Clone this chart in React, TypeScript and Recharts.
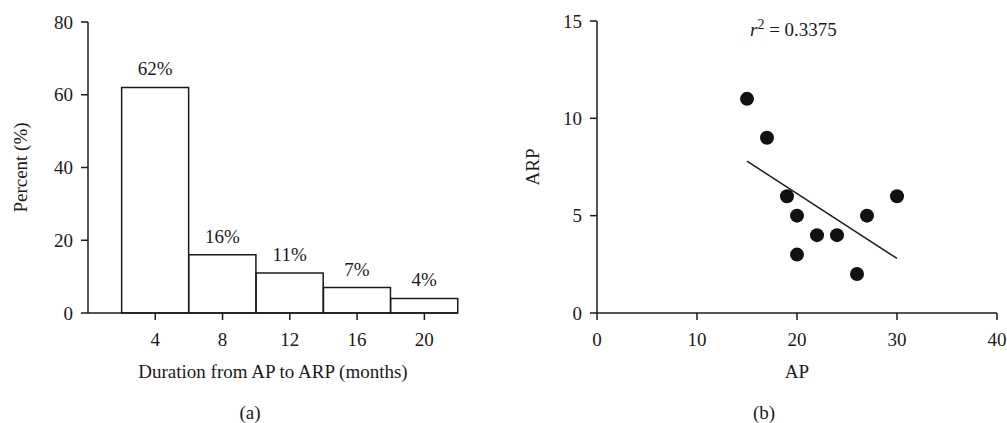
import React from 'react';
import {
  BarChart,
  Bar,
  XAxis,
  YAxis,
  LabelList,
  ScatterChart,
  Scatter,
} from 'recharts';

const durations = [4, 8, 12, 16, 20];
const percents = [62, 16, 11, 7, 4];
const percentTicks = [0, 20, 40, 60, 80];
const durationTicks = [4, 8, 12, 16, 20];

const apValues = [15, 17, 19, 20, 20, 22, 24, 26, 27, 30];
const arpValues = [11, 9, 6, 5, 3, 4, 4, 2, 5, 6];
const fitLine = [
  { x: 15, y: 7.8 },
  { x: 30, y: 2.8 },
];
const apTicks = [0, 10, 20, 30, 40];
const arpTicks = [0, 5, 10, 15];

const FONT = '"Liberation Serif", "DejaVu Serif", serif';
const INK = '#1a1a1a';
const tickStyle = { fontSize: 19, fill: INK, fontFamily: FONT };
const axisLine = { stroke: INK, strokeWidth: 1.5 };

const histData = durations.map((d, i) => ({ duration: d, percent: percents[i] }));
const scatterData = apValues.map((x, i) => ({ x, y: arpValues[i] }));

const Dot = (props: any) => <circle cx={props.cx} cy={props.cy} r={7} fill="#111" />;
const NoDot = () => <g />;

export default function App() {
  return (
    <div style={{ position: 'absolute', left: 0, top: 0, width: 1007, height: 423, background: '#fff', fontFamily: FONT }}>
      <div style={{ position: 'absolute', left: 0, top: 0 }}>
        <BarChart
          width={480}
          height={423}
          data={histData}
          margin={{ top: 22, right: 22, bottom: 80, left: 0 }}
          barSize={67}
        >
          <XAxis
            dataKey="duration"
            type="number"
            domain={[0, 22]}
            ticks={durationTicks}
            height={30}
            tick={tickStyle}
            axisLine={axisLine}
            tickLine={axisLine}
            tickSize={7}
            tickMargin={13}
            label={{ value: 'Duration from AP to ARP (months)', position: 'bottom', offset: 22, style: { ...tickStyle } }}
          />
          <YAxis
            domain={[0, 80]}
            ticks={percentTicks}
            width={88}
            tick={tickStyle}
            axisLine={axisLine}
            tickLine={axisLine}
            tickSize={7}
            tickMargin={8}
            label={{ value: 'Percent (%)', angle: -90, position: 'insideLeft', offset: 20, style: { ...tickStyle, textAnchor: 'middle' } }}
          />
          <Bar dataKey="percent" fill="#fff" stroke={INK} strokeWidth={1.5} isAnimationActive={false}>
            <LabelList dataKey="percent" position="top" offset={12} formatter={(v: any) => `${v}%`} style={tickStyle} />
          </Bar>
        </BarChart>
      </div>

      <div style={{ position: 'absolute', left: 520, top: 0 }}>
        <ScatterChart width={487} height={423} margin={{ top: 21, right: 10, bottom: 80, left: 0 }}>
          <XAxis
            dataKey="x"
            type="number"
            domain={[0, 40]}
            ticks={apTicks}
            height={30}
            tick={tickStyle}
            axisLine={axisLine}
            tickLine={axisLine}
            tickSize={7}
            tickMargin={13}
            label={{ value: 'AP', position: 'bottom', offset: 22, style: { ...tickStyle } }}
          />
          <YAxis
            dataKey="y"
            type="number"
            domain={[0, 15]}
            ticks={arpTicks}
            width={77}
            tick={tickStyle}
            axisLine={axisLine}
            tickLine={axisLine}
            tickSize={7}
            tickMargin={8}
            label={{ value: 'ARP', angle: -90, position: 'insideLeft', offset: 12, style: { ...tickStyle, textAnchor: 'middle' } }}
          />
          <Scatter data={fitLine} line={{ stroke: INK, strokeWidth: 1.5 }} shape={NoDot} isAnimationActive={false} />
          <Scatter data={scatterData} shape={Dot} isAnimationActive={false} />
        </ScatterChart>
      </div>

      <div style={{ position: 'absolute', left: 750, top: 17, fontSize: 19, color: INK, whiteSpace: 'nowrap' }}>
        <i>r</i>
        <sup style={{ fontSize: 14 }}>2</sup> = 0.3375
      </div>

      <div style={{ position: 'absolute', left: 230, top: 402, width: 40, textAlign: 'center', fontSize: 19, color: INK }}>(a)</div>
      <div style={{ position: 'absolute', left: 744, top: 402, width: 40, textAlign: 'center', fontSize: 19, color: INK }}>(b)</div>
    </div>
  );
}
